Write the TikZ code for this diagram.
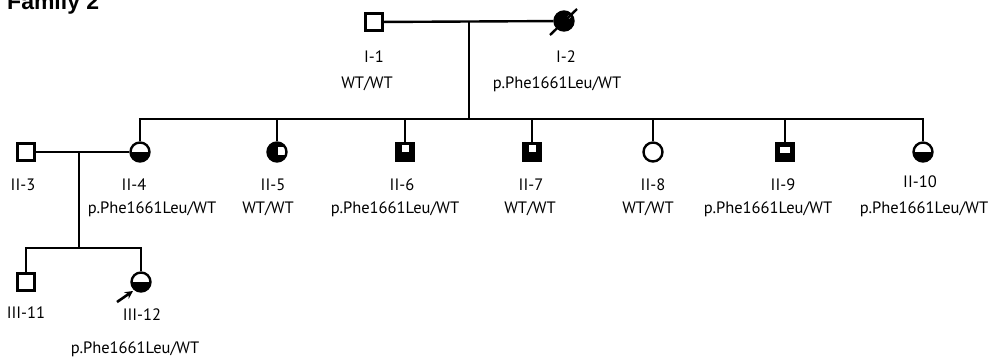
\documentclass[tikz,border=0pt]{standalone}
\usepackage{fontspec}
\setmainfont{PT Sans}
\newfontfamily\titlefont{Liberation Sans}
\usetikzlibrary{arrows.meta}
\tikzset{
  conn/.style={line width=2.4pt},
  male/.style={draw, line width=2.4pt, minimum size=17pt, inner sep=0pt, fill=white},
  female/.style={draw, circle, line width=2.4pt, minimum size=19pt, inner sep=0pt, fill=white},
  lowerhalf/.style={path picture={\fill[black] (path picture bounding box.west) rectangle (path picture bounding box.south east);}},
  blackq/.style={fill=black, path picture={\fill[white] ([shift={(0.5pt,-3pt)}]path picture bounding box.center) rectangle ++(9pt,8pt);}},
  blacksq/.style={fill=black, path picture={\fill[white] ([shift={(-3.5pt,0.5pt)}]path picture bounding box.center) rectangle ++(7pt,6.5pt);}},
  blackbar/.style={fill=black, path picture={\fill[white] ([shift={(-5pt,-0.5pt)}]path picture bounding box.center) rectangle ++(10pt,6pt);}},
  lab/.style={anchor=base, font=\fontsize{16.5}{19}\selectfont, inner sep=0pt},
}
\begin{document}
\begin{tikzpicture}[x=1pt, y=-1pt]
\useasboundingbox (0,0) rectangle (996,357);
\fill[white] (0,0) rectangle (996,357);
\node[anchor=base west, inner sep=0pt, font=\titlefont\bfseries\fontsize{23}{26}\selectfont] (title) at (7,9) {Family 2};

% generation I
\node[male] (I1) at (374,22) {};
\node[female, fill=black] (I2) at (564,21) {};
\fill[white] (569,17) circle (1.8);
\draw[conn] (I1) -- (I2);
\draw[conn] ([shift={(-14pt,-14pt)}]I2.center) -- ([shift={(13pt,12pt)}]I2.center);
\coordinate (m1) at (469,22);
\coordinate (s1) at (469,119);
\draw[conn] (m1) -- (s1);

% sibship line
\coordinate (c4) at (140,119);
\coordinate (c5) at (277,119);
\coordinate (c6) at (405,119);
\coordinate (c7) at (532,119);
\coordinate (c8) at (653,119);
\coordinate (c9) at (785,119);
\coordinate (c10) at (923,119);
\draw[conn] ([xshift=-1.2pt]c4) -- ([xshift=1.2pt]c10);

% generation II
\node[male] (II3) at (26,152) {};
\node[female, lowerhalf] (II4) at (140,152) {};
\node[female, blackq] (II5) at (277,152) {};
\node[male, blacksq] (II6) at (405,152) {};
\node[male, blacksq] (II7) at (532,152) {};
\node[female] (II8) at (653,152) {};
\node[male, blackbar] (II9) at (785,152) {};
\node[female, lowerhalf] (II10) at (923,152) {};
\foreach \n in {4,...,10} {\draw[conn] (c\n) -- (II\n);}
\draw[conn] (II3) -- (II4);

% generation III
\coordinate (m2) at (79,152);
\coordinate (s2) at (79,248);
\draw[conn] (m2) -- (s2);
\coordinate (c11) at (26,248);
\coordinate (c12) at (141,248);
\draw[conn] ([xshift=-1.2pt]c11) -- ([xshift=1.2pt]c12);
\node[male] (III11) at (26,282) {};
\node[female, lowerhalf] (III12) at (141,282) {};
\draw[conn] (c11) -- (III11);
\draw[conn] (c12) -- (III12);
\coordinate (pa) at (117,302);
\coordinate (pb) at (133,291);
\draw[line width=2.6pt, -{Stealth[length=8pt,width=8pt]}] (pa) -- (pb);

% labels
\node[lab] (tI1) at (374,62) {I-1};
\node[lab] (gI1) at (367,88) {WT/WT};
\node[lab] (tI2) at (566,62) {I-2};
\node[lab] (gI2) at (557,88) {p.Phe1661Leu/WT};
\node[lab] (tII3) at (23,190) {II-3};
\node[lab] (tII4) at (134,190) {II-4};
\node[lab] (gII4) at (152,213) {p.Phe1661Leu/WT};
\node[lab] (tII5) at (273,190) {II-5};
\node[lab] (gII5) at (268,213) {WT/WT};
\node[lab] (tII6) at (402,190) {II-6};
\node[lab] (gII6) at (395,213) {p.Phe1661Leu/WT};
\node[lab] (tII7) at (531,190) {II-7};
\node[lab] (gII7) at (530,213) {WT/WT};
\node[lab] (tII8) at (653,190) {II-8};
\node[lab] (gII8) at (648,213) {WT/WT};
\node[lab] (tII9) at (783,190) {II-9};
\node[lab] (gII9) at (768,213) {p.Phe1661Leu/WT};
\node[lab] (tII10) at (920,187) {II-10};
\node[lab] (gII10) at (924,213) {p.Phe1661Leu/WT};
\node[lab] (tIII11) at (26,318) {III-11};
\node[lab] (tIII12) at (142,320) {III-12};
\node[lab] (gIII12) at (135,353) {p.Phe1661Leu/WT};
\end{tikzpicture}
\end{document}
